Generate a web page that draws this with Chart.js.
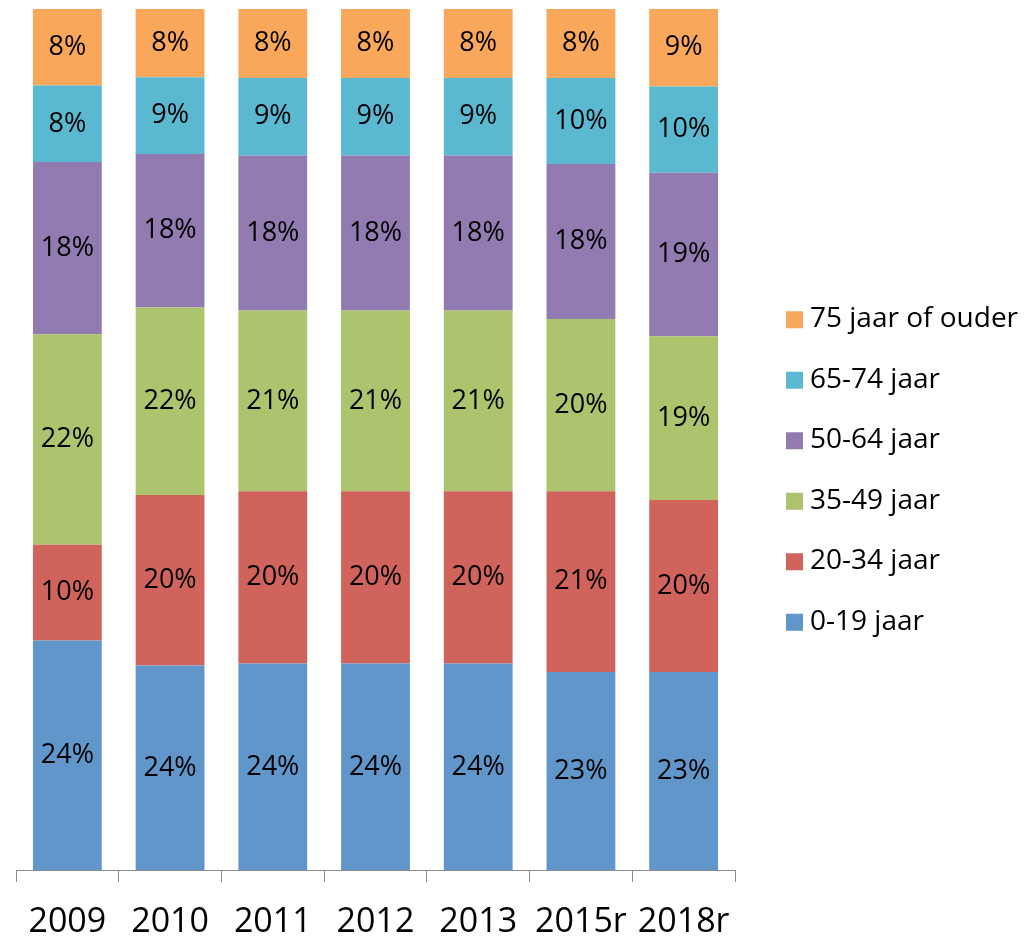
<!DOCTYPE html>
<html>
<head>
<meta charset="utf-8">
<script src="https://cdn.jsdelivr.net/npm/chart.js@4/dist/chart.umd.min.js"></script>
<style>
  html, body { margin: 0; padding: 0; background: #fff; }
  #wrap { width: 1036px; height: 937px; }
</style>
</head>
<body>
<div id="wrap"><canvas id="chart"></canvas></div>
<script>
// jaren en leeftijdsgroepen
const years = ['2009', '2010', '2011', '2012', '2013', '2015r', '2018r'];
const groups = ['0-19 jaar', '20-34 jaar', '35-49 jaar', '50-64 jaar', '65-74 jaar', '75 jaar of ouder'];
const colors = ['#6096CA', '#D0645C', '#ABC46D', '#917BB0', '#5AB8D0', '#F9A75A'];

// aandelen in procenten per groep, per jaar
const age0_19 = [24, 24, 24, 24, 24, 23, 23];
const age20_34 = [10, 20, 20, 20, 20, 21, 20];
const age35_49 = [22, 22, 21, 21, 21, 20, 19];
const age50_64 = [18, 18, 18, 18, 18, 18, 19];
const age65_74 = [8, 9, 9, 9, 9, 10, 10];
const age75 = [8, 8, 8, 8, 8, 8, 9];

const series = [age0_19, age20_34, age35_49, age50_64, age65_74, age75];

// 100% gestapeld: elke kolom naar zijn totaal schalen
const totals = years.map((y, i) => series.reduce((s, arr) => s + arr[i], 0));

const datasets = series.map((arr, k) => ({
  label: groups[k],
  data: arr.map((v, i) => v / totals[i] * 100),
  raw: arr,
  backgroundColor: colors[k],
  borderWidth: 0,
  barPercentage: 0.67,
  categoryPercentage: 1
}));

// percentages midden in elk segment
const labelPlugin = {
  id: 'barLabels',
  afterDatasetsDraw(chart) {
    const ctx = chart.ctx;
    ctx.save();
    ctx.font = '27px "Open Sans"';
    ctx.fillStyle = '#000';
    ctx.textAlign = 'center';
    ctx.textBaseline = 'middle';
    chart.data.datasets.forEach((ds, k) => {
      const meta = chart.getDatasetMeta(k);
      meta.data.forEach((bar, i) => {
        ctx.fillText(ds.raw[i] + '%', bar.x, (bar.y + bar.base) / 2);
      });
    });
    ctx.restore();
  }
};

// legenda rechts, omgekeerde volgorde
const legendPlugin = {
  id: 'sideLegend',
  afterDraw(chart) {
    const ctx = chart.ctx;
    const x = chart.chartArea.right + 51;
    const mid = chart.height / 2 + 2;
    const step = 60.5;
    ctx.save();
    ctx.font = '28px "Open Sans"';
    ctx.textBaseline = 'middle';
    ctx.textAlign = 'left';
    const n = chart.data.datasets.length;
    chart.data.datasets.slice().reverse().forEach((ds, i) => {
      const y = mid + (i - (n - 1) / 2) * step;
      ctx.fillStyle = ds.backgroundColor;
      ctx.fillRect(x, y - 8, 17, 17);
      ctx.fillStyle = '#000';
      ctx.fillText(ds.label, x + 24, y);
    });
    ctx.restore();
  }
};

new Chart(document.getElementById('chart'), {
  type: 'bar',
  data: { labels: years, datasets: datasets },
  plugins: [labelPlugin, legendPlugin],
  options: {
    responsive: true,
    maintainAspectRatio: false,
    animation: false,
    layout: { padding: { top: 9, left: 16, right: 301, bottom: -26 } },
    plugins: {
      tooltip: { enabled: false },
      legend: { display: false }
    },
    scales: {
      x: {
        stacked: true,
        grid: {
          offset: true,
          drawOnChartArea: false,
          drawTicks: true,
          tickLength: 12,
          color: '#8c8c8c'
        },
        border: { display: true, color: '#8c8c8c', width: 1 },
        ticks: {
          color: '#000',
          padding: 20,
          font: { family: '"Open Sans"', size: 34 }
        }
      },
      y: {
        stacked: true,
        display: false,
        min: 0,
        max: 100
      }
    }
  }
});
</script>
</body>
</html>
